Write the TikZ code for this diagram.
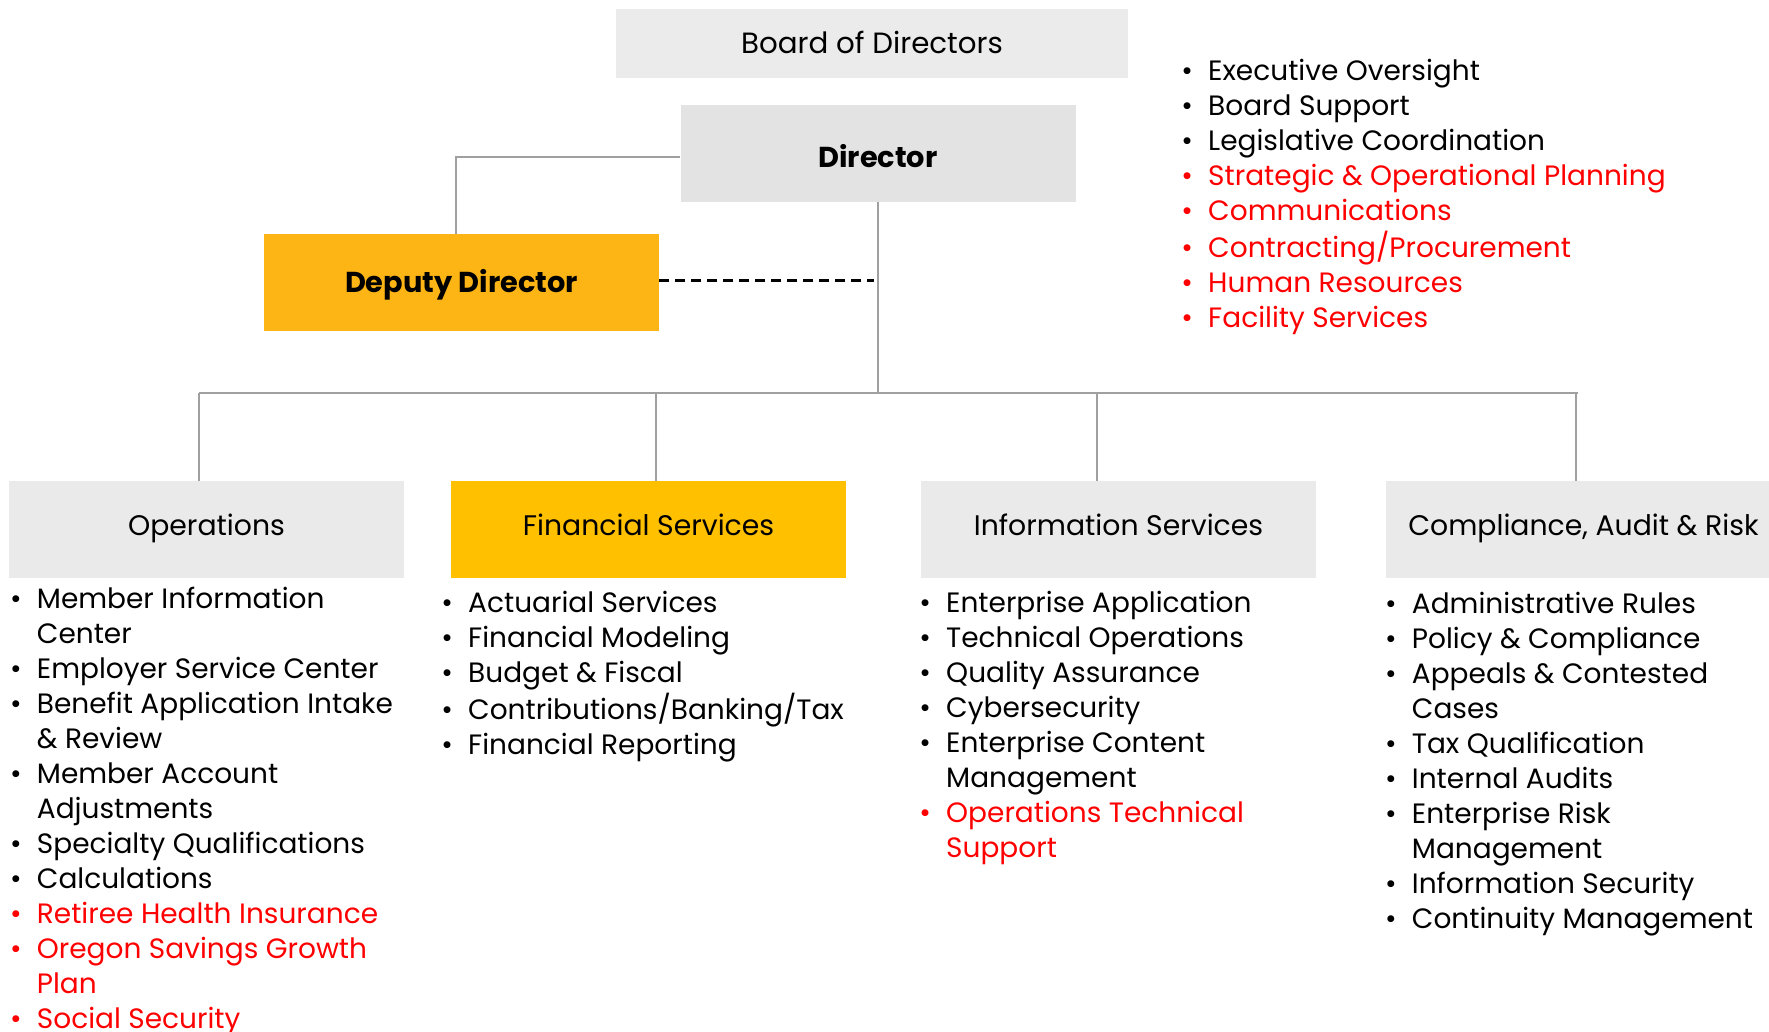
\documentclass[tikz,border=0pt]{standalone}
\usepackage{fontspec}
\setmainfont{Poppins}

\definecolor{boardgray}{HTML}{EBEBEB}
\definecolor{dirgray}{HTML}{E3E3E3}
\definecolor{unitgray}{HTML}{EAEAEA}
\definecolor{deputygold}{HTML}{FDB515}
\definecolor{fingold}{HTML}{FFC000}
\definecolor{linegray}{HTML}{A0A0A0}
\definecolor{hotred}{HTML}{FF0000}

\newcommand{\listfont}{\fontsize{28pt}{35pt}\selectfont}
\newcommand{\headfont}{\fontsize{28.3pt}{35pt}\selectfont}
\newcommand{\boldfont}{\fontsize{28.8pt}{35pt}\selectfont\bfseries}
\newcommand{\itm}[1]{\makebox[42pt][c]{\textbullet}#1}
\newcommand{\cont}[1]{\hspace*{42pt}#1}
\newcommand{\ritm}[1]{\textcolor{hotred}{\itm{#1}}}
\newcommand{\rcont}[1]{\textcolor{hotred}{\cont{#1}}}

\tikzset{
  every node/.style={inner sep=0pt},
  box/.style={rectangle, minimum width=395pt, minimum height=97pt, text height=20pt, text depth=0pt, font=\headfont},
  unitbox/.style={box, text depth=8pt},
  conn/.style={draw=linegray, line width=1.2pt},
  dashlink/.style={black, line width=2.5pt, dash pattern=on 10pt off 6pt},
  itemlist/.style={anchor=base west, font=\listfont}
}

\begin{document}
\begin{tikzpicture}[x=1pt,y=-1pt]
\useasboundingbox (0,0) rectangle (1769,1032);

% Define boxes
\node[box, fill=boardgray, minimum width=512pt, minimum height=69pt, font=\fontsize{29.3pt}{35pt}\selectfont] (board) at (872,43.5) {Board of Directors};
\node[box, fill=dirgray, text height=28.4pt, font=\boldfont] (dir) at (878,153.5) {Director};
\node[box, fill=deputygold, font=\boldfont] (dep) at (461.5,282.5) {Deputy Director};
\node[unitbox, fill=unitgray] (ops) at (206.5,529.5) {Operations};
\node[unitbox, fill=fingold] (fin) at (648.5,529.5) {Financial Services};
\node[unitbox, fill=unitgray] (info) at (1118.5,529.5) {Information Services};
\node[unitbox, fill=unitgray] (car) at (1583.5,529.5) {Compliance, Audit \& Risk};

% Draw connectors
\coordinate (t1) at (199,393);
\coordinate (t2) at (656,393);
\coordinate (t3) at (1097,393);
\coordinate (t4) at (1576,393);
\coordinate (tend) at (1578,393);
\draw[conn] ([yshift=-3.5pt]dir.west) -| ([xshift=-5.5pt]dep.north);
\draw[conn] (dir.south) -- (dir.south |- t1);
\draw[conn] (t1) -- (tend);
\foreach \t/\n in {t1/ops, t2/fin, t3/info, t4/car}
  \draw[conn] (\t) -- (\t |- \n.north);
\draw[dashlink] ([yshift=2pt]dep.east) -- ([yshift=2pt,xshift=-4pt]dep.east -| dir.south);

% Lists
\node[itemlist] (dirlist) at (1166,81) {\begin{tabular}[t]{@{}l@{}}
\itm{Executive Oversight}\\
\itm{Board Support}\\
\itm{Legislative Coordination}\\
\ritm{Strategic \& Operational Planning}\\
\ritm{Communications}\\
\ritm{Contracting/Procurement}\\
\ritm{Human Resources}\\
\ritm{Facility Services}
\end{tabular}};

\node[itemlist] (opslist) at (-5.3,608) {\begin{tabular}[t]{@{}l@{}}
\itm{Member Information}\\
\cont{Center}\\
\itm{Employer Service Center}\\
\itm{Benefit Application Intake}\\
\cont{\& Review}\\
\itm{Member Account}\\
\cont{Adjustments}\\
\itm{Specialty Qualifications}\\
\itm{Calculations}\\
\ritm{Retiree Health Insurance}\\
\ritm{Oregon Savings Growth}\\
\rcont{Plan}\\
\ritm{Social Security}
\end{tabular}};

\node[itemlist] (finlist) at (426,612.3) {\begin{tabular}[t]{@{}l@{}}
\itm{Actuarial Services}\\
\itm{Financial Modeling}\\
\itm{Budget \& Fiscal}\\
\itm{Contributions/Banking/Tax}\\
\itm{Financial Reporting}
\end{tabular}};

\node[itemlist] (infolist) at (904,612.3) {\begin{tabular}[t]{@{}l@{}}
\itm{Enterprise Application}\\
\itm{Technical Operations}\\
\itm{Quality Assurance}\\
\itm{Cybersecurity}\\
\itm{Enterprise Content}\\
\cont{Management}\\
\ritm{Operations Technical}\\
\rcont{Support}
\end{tabular}};

\node[itemlist] (carlist) at (1369.7,613) {\begin{tabular}[t]{@{}l@{}}
\itm{Administrative Rules}\\
\itm{Policy \& Compliance}\\
\itm{Appeals \& Contested}\\
\cont{Cases}\\
\itm{Tax Qualification}\\
\itm{Internal Audits}\\
\itm{Enterprise Risk}\\
\cont{Management}\\
\itm{Information Security}\\
\itm{Continuity Management}
\end{tabular}};
\end{tikzpicture}
\end{document}
